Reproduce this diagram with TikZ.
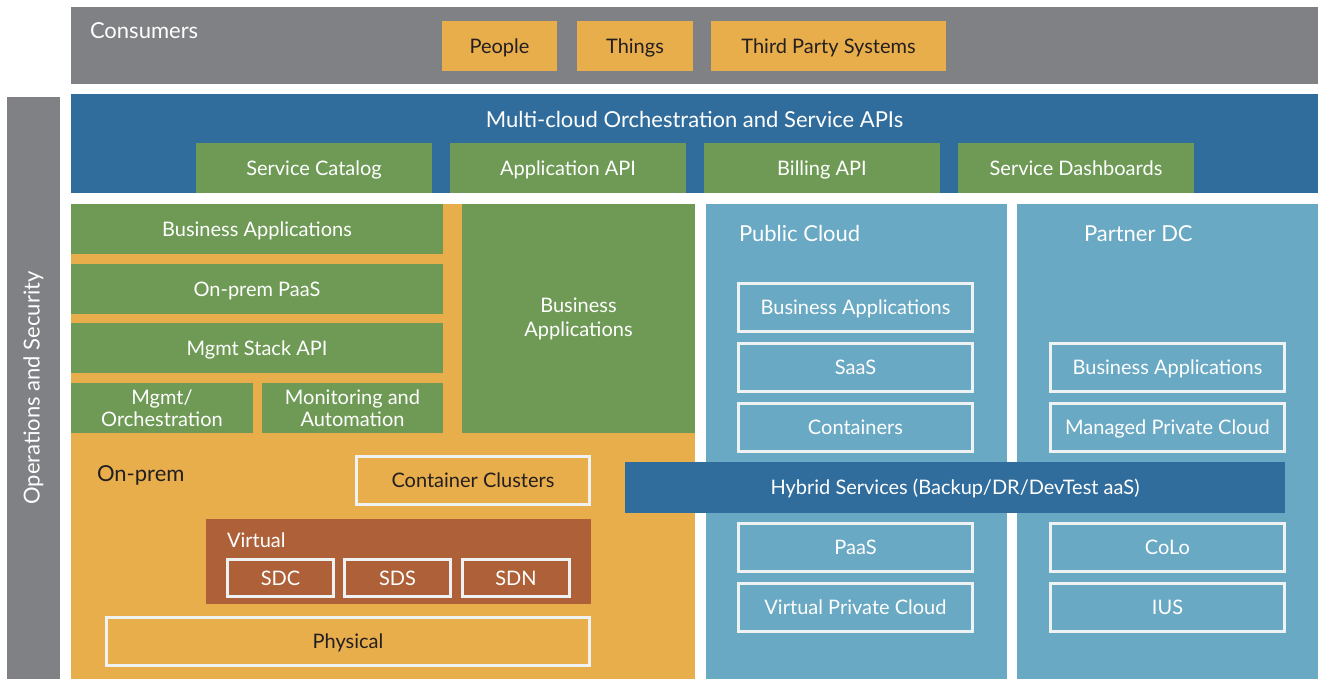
\documentclass[tikz,border=0pt]{standalone}
\usepackage{fontspec}
\setmainfont{Lato}
\definecolor{cgray}{HTML}{808184}
\definecolor{cblue}{HTML}{316D9C}
\definecolor{cgreen}{HTML}{6E9A55}
\definecolor{corange}{HTML}{E9AE4C}
\definecolor{cbrown}{HTML}{AE6139}
\definecolor{clight}{HTML}{69A9C4}
\definecolor{cdark}{HTML}{231F20}
\definecolor{cline}{HTML}{EEF2F2}

% filled block from (x1,y1) to (x2,y2), y measured downwards
\newcommand\blk[7][]{%
  \node[blk,#1,minimum width={(#5-#3)*1pt},minimum height={(#6-#4)*1pt}]
    (#2) at ({(#3+#5)/2},{(#4+#6)/2}) {#7};}
% outlined block: the 3pt stroke lies inside the given extent
\newcommand\obx[7][]{%
  \node[blk,outl,#1,minimum width={(#5-#3-3)*1pt},minimum height={(#6-#4-3)*1pt}]
    (#2) at ({(#3+#5)/2},{(#4+#6)/2}) {#7};}

\begin{document}
\begin{tikzpicture}[x=1pt,y=-1pt,
  blk/.style={rectangle,inner sep=0pt,outer sep=0pt,draw=none,text=white,
    font=\fontsize{20}{22}\selectfont,text height=14.4pt,text depth=0pt},
  two/.style={text height=,text depth=,align=center},
  outl/.style={draw=cline,line width=3pt},
  dk/.style={text=cdark},
  head/.style={inner sep=0pt,outer sep=0pt,text=white,font=\fontsize{22}{24}\selectfont},
]
\useasboundingbox (0,0) rectangle (1318,679);

% consumers band
\blk[fill=cgray]{consumers}{71}{7}{1318}{84}{}
\node[head,anchor=base west] (consumersLbl) at (90,39) {Consumers};
\blk[fill=corange,dk]{people}{442}{21}{557}{71}{People}
\blk[fill=corange,dk]{things}{577}{21}{693}{71}{Things}
\blk[fill=corange,dk]{thirdparty}{711}{21}{946}{71}{Third Party Systems}

% operations and security column
\blk[fill=cgray]{ops}{7}{97}{60}{679}{}
\node[head,rotate=90] (opsLbl) at (33.5,388) {Operations and Security};

% orchestration band
\blk[fill=cblue]{orch}{71}{94}{1318}{193}{}
\node[head,anchor=base] (orchLbl) at (694.5,128) {Multi-cloud Orchestration and Service APIs};
\blk[fill=cgreen]{catalog}{196}{143}{432}{193}{Service Catalog}
\blk[fill=cgreen]{appapi}{450}{143}{686}{193}{Application API}
\blk[fill=cgreen]{billing}{704}{143}{940}{193}{Billing API}
\blk[fill=cgreen]{dash}{958}{143}{1194}{193}{Service Dashboards}

% on-prem
\blk[fill=corange]{onprem}{71}{204}{695}{679}{}
\blk[fill=cgreen]{bizapps}{71}{204}{443}{254}{Business Applications}
\blk[fill=cgreen]{paas}{71}{264}{443}{314}{On-prem PaaS}
\blk[fill=cgreen]{mgmtapi}{71}{323}{443}{373}{Mgmt Stack API}
\blk[fill=cgreen,two]{mgmt}{71}{383}{253}{433}{Mgmt/\\Orchestration}
\blk[fill=cgreen,two]{monitor}{262}{383}{443}{433}{Monitoring and\\Automation}
\blk[fill=cgreen,two]{bizbig}{462}{204}{695}{433}{Business\\[2pt]Applications}
\node[head,dk,anchor=base west] (onpremLbl) at (97,481) {On-prem};
\obx[dk]{clusters}{355}{455}{591}{506}{Container Clusters}
\blk[fill=cbrown]{virtual}{206}{519}{591}{604}{}
\node[blk,anchor=base west,text height=,text depth=] (virtualLbl) at (227,547) {Virtual};
\obx{sdc}{226}{558}{335}{598}{SDC}
\obx{sds}{343}{558}{452}{598}{SDS}
\obx{sdn}{461}{558}{571}{598}{SDN}
\obx[dk]{physical}{105}{616}{591}{667}{Physical}

% public cloud
\blk[fill=clight]{public}{706}{204}{1007}{679}{}
\node[head,anchor=base west] (publicLbl) at (739,242) {Public Cloud};
\obx{pcbiz}{737}{282}{974}{333}{Business Applications}
\obx{saas}{737}{342}{974}{393}{SaaS}
\obx{containers}{737}{402}{974}{453}{Containers}
\obx{pcpaas}{737}{522}{974}{573}{PaaS}
\obx{vpc}{737}{582}{974}{633}{Virtual Private Cloud}

% partner data centre
\blk[fill=clight]{partner}{1017}{204}{1318}{679}{}
\node[head,anchor=base west] (partnerLbl) at (1084,242) {Partner DC};
\obx{ptbiz}{1049}{342}{1286}{393}{Business Applications}
\obx{managed}{1049}{402}{1286}{453}{Managed Private Cloud}
\obx{colo}{1049}{522}{1286}{573}{CoLo}
\obx{ius}{1049}{582}{1286}{633}{IUS}

% hybrid services spanning the clouds
\blk[fill=cblue]{hybrid}{625}{462}{1285}{513}{Hybrid Services (Backup/DR/DevTest aaS)}
\end{tikzpicture}
\end{document}
